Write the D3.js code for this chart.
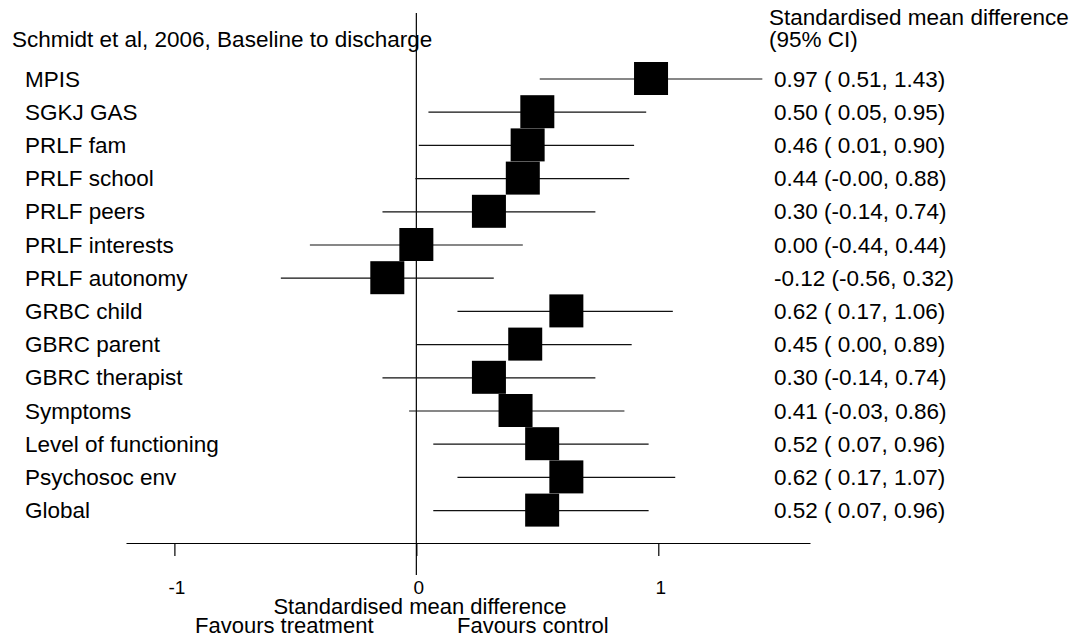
<!DOCTYPE html>
<html>
<head>
<meta charset="utf-8">
<script src="https://cdn.jsdelivr.net/npm/d3@7"></script>
<style>
  body { margin: 0; background: #fff; }
  text { font-family: "Liberation Sans", Arial, sans-serif; fill: #000; }
</style>
</head>
<body>
<svg width="1078" height="638"></svg>
<script>
const outcomes = ["MPIS", "SGKJ GAS", "PRLF fam", "PRLF school", "PRLF peers", "PRLF interests",
  "PRLF autonomy", "GRBC child", "GBRC parent", "GBRC therapist", "Symptoms",
  "Level of functioning", "Psychosoc env", "Global"];
const smd   = [0.97, 0.50, 0.46, 0.44, 0.30, 0.00, -0.12, 0.62, 0.45, 0.30, 0.41, 0.52, 0.62, 0.52];
const lower = [0.51, 0.05, 0.01, -0.004, -0.14, -0.44, -0.56, 0.17, 0.00, -0.14, -0.03, 0.07, 0.17, 0.07];
const upper = [1.43, 0.95, 0.90, 0.88, 0.74, 0.44, 0.32, 1.06, 0.89, 0.74, 0.86, 0.96, 1.07, 0.96];
const xTicks = [-1, 0, 1];

const svg = d3.select("svg"),
  width = +svg.attr("width"),
  height = +svg.attr("height");

const rows = outcomes.map((d, i) => ({ name: d, est: smd[i], lo: lower[i], hi: upper[i] }));

const x = d3.scaleLinear().domain([-1.2, 1.627]).range([126, 810]);
const y = d3.scalePoint().domain(outcomes).range([79, 510.6]);
const axisY = 543;
const boxSize = 34;

const f2 = v => v.toFixed(2);
const pad = v => (v.toFixed(2).startsWith("-") ? "" : " ") + v.toFixed(2);

// header texts
svg.append("text").attr("x", 12).attr("y", 47).text("Schmidt et al, 2006, Baseline to discharge").style("font-size", "22.5px")
svg.append("text").attr("x", 769).attr("y", 25).text("Standardised mean difference").style("font-size", "22.5px")
svg.append("text").attr("x", 769).attr("y", 47).text("(95% CI)").style("font-size", "22.5px")

// zero line
svg.append("line")
  .attr("x1", x(0)).attr("x2", x(0))
  .attr("y1", 13).attr("y2", 575)
  .style("stroke", "#000").style("stroke-width", 1.2)

// x axis
const axis = svg.append("g")
  .attr("transform", `translate(0,${axisY})`)
  .call(d3.axisBottom(x).tickValues(xTicks).tickSize(13).tickSizeOuter(0).tickFormat(d3.format("d")));
axis.select(".domain").style("stroke", "#000").style("stroke-width", 1.2);
axis.selectAll(".tick line").style("stroke", "#000").style("stroke-width", 1.2);
axis.selectAll(".tick text")
  .attr("y", 51).attr("dy", 0).attr("dx", 2)
  .style("font-size", "19px")
  .style("font-family", "'Liberation Sans', Arial, sans-serif")
  .text(d => d === -1 ? "-1" : d);

svg.append("text").attr("x", 420).attr("y", 614).attr("text-anchor", "middle")
  .text("Standardised mean difference").style("font-size", "22px")
svg.append("text").attr("x", 195).attr("y", 633).text("Favours treatment").style("font-size", "22px")
svg.append("text").attr("x", 457).attr("y", 633).text("Favours control").style("font-size", "22px")

// rows
const row = svg.selectAll(".row")
  .data(rows)
  .join("g")
  .attr("class", "row");

row.append("text")
  .attr("x", 25)
  .attr("y", d => y(d.name) + 7.5)
  .style("font-size", "22.5px")
  .text(d => d.name);

row.append("line")
  .attr("x1", d => x(d.lo)).attr("x2", d => x(d.hi))
  .attr("y1", d => y(d.name)).attr("y2", d => y(d.name))
  .style("stroke", "#111").style("stroke-width", 1.2);

row.append("rect")
  .attr("x", d => x(d.est) - boxSize / 2)
  .attr("y", d => y(d.name) - boxSize / 2)
  .attr("width", boxSize).attr("height", boxSize - 1)
  .style("fill", "#000");

row.append("text")
  .attr("x", 774)
  .attr("y", d => y(d.name) + 7.5)
  .style("font-size", "22.5px")
  .style("white-space", "pre")
  .attr("xml:space", "preserve")
  .text(d => `${f2(d.est)} (${pad(d.lo)}, ${f2(d.hi)})`);
</script>
</body>
</html>
